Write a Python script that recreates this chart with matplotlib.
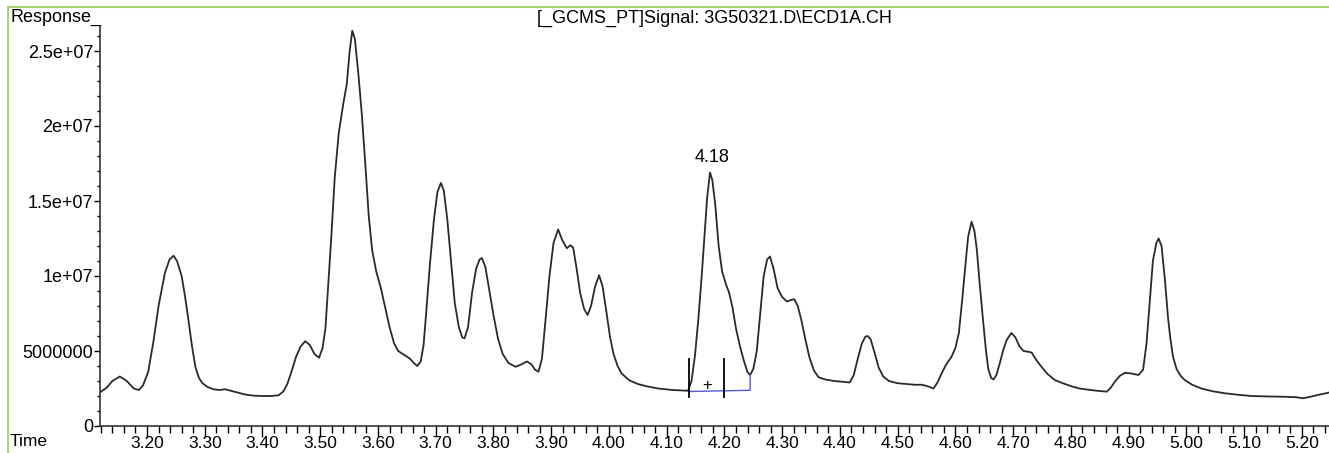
import matplotlib
matplotlib.use("Agg")
import matplotlib.pyplot as plt
from matplotlib.lines import Line2D
from matplotlib.ticker import MultipleLocator
import numpy as np

plt.rcParams['font.family'] = ['Liberation Sans', 'DejaVu Sans']

# chromatogram trace (time in min, response in 1e6)
time = [3.119, 3.13, 3.14, 3.153, 3.165, 3.177, 3.186, 3.193, 3.202, 3.211,
        3.220, 3.231, 3.239, 3.246, 3.252, 3.260, 3.266, 3.272, 3.278, 3.284,
        3.290, 3.296, 3.305, 3.315, 3.325, 3.335, 3.345, 3.355, 3.370, 3.385,
        3.400, 3.415, 3.428, 3.436, 3.443, 3.450, 3.458, 3.466, 3.474, 3.482,
        3.490, 3.498, 3.504, 3.509, 3.514, 3.519, 3.525, 3.532, 3.540, 3.546,
        3.551, 3.5555, 3.560, 3.566, 3.572, 3.578, 3.584, 3.590, 3.597, 3.605,
        3.613, 3.620, 3.628, 3.635, 3.645, 3.655, 3.662, 3.668, 3.674, 3.679,
        3.684, 3.690, 3.697, 3.703, 3.709, 3.714, 3.720, 3.726, 3.733, 3.740,
        3.746, 3.750, 3.756, 3.763, 3.770, 3.776, 3.780, 3.786, 3.793, 3.800,
        3.808, 3.816, 3.826, 3.838, 3.848, 3.858, 3.866, 3.872, 3.878, 3.884,
        3.890, 3.897, 3.904, 3.912, 3.919, 3.927, 3.933, 3.938, 3.944, 3.950,
        3.957, 3.963, 3.969, 3.976, 3.983, 3.989, 3.996, 4.002, 4.008, 4.015,
        4.022, 4.035, 4.050, 4.065, 4.085, 4.110, 4.137, 4.143, 4.149, 4.155,
        4.161, 4.166, 4.170, 4.175, 4.179, 4.184, 4.190, 4.196, 4.203, 4.208,
        4.214, 4.220, 4.227, 4.234, 4.240, 4.2445, 4.250, 4.256, 4.262, 4.268,
        4.274, 4.279, 4.285, 4.292, 4.300, 4.308, 4.315, 4.321, 4.327, 4.333,
        4.340, 4.347, 4.355, 4.363, 4.375, 4.390, 4.405, 4.417, 4.424, 4.431,
        4.438, 4.444, 4.448, 4.453, 4.460, 4.467, 4.475, 4.485, 4.500, 4.515,
        4.530, 4.542, 4.552, 4.562, 4.569, 4.576, 4.584, 4.593, 4.600, 4.606,
        4.612, 4.617, 4.622, 4.628, 4.633, 4.637, 4.642, 4.648, 4.653, 4.657,
        4.662, 4.666, 4.671, 4.677, 4.683, 4.689, 4.697, 4.704, 4.711, 4.718,
        4.726, 4.732, 4.740, 4.749, 4.760, 4.772, 4.786, 4.801, 4.815, 4.830,
        4.845, 4.862, 4.869, 4.876, 4.885, 4.894, 4.905, 4.917, 4.925, 4.931,
        4.936, 4.942, 4.948, 4.952, 4.957, 4.963, 4.968, 4.972, 4.977, 4.983,
        4.990, 4.997, 5.010, 5.026, 5.045, 5.067, 5.090, 5.113, 5.140, 5.171,
        5.190, 5.202, 5.215, 5.228, 5.246]
response = [2.25, 2.55, 3.0, 3.3, 3.0, 2.5, 2.4, 2.7, 3.6, 5.6,
            8.0, 10.2, 11.1, 11.35, 11.0, 10.0, 8.6, 7.0, 5.3, 3.9,
            3.2, 2.85, 2.6, 2.45, 2.4, 2.45, 2.35, 2.25, 2.1, 2.02,
            2.0, 2.0, 2.05, 2.3, 2.8, 3.6, 4.6, 5.3, 5.65, 5.4,
            4.8, 4.55, 5.2, 6.5, 9.5, 12.5, 16.5, 19.5, 21.5, 22.8,
            25.0, 26.35, 25.8, 23.5, 20.8, 17.5, 14.0, 11.7, 10.3, 9.2,
            7.8, 6.6, 5.5, 5.0, 4.75, 4.5, 4.2, 4.0, 4.3, 5.4,
            7.8, 10.8, 13.8, 15.6, 16.2, 15.7, 13.8, 11.2, 8.2, 6.6,
            5.9, 5.85, 6.6, 8.9, 10.5, 11.1, 11.2, 10.6, 9.0, 7.4,
            5.8, 4.8, 4.2, 3.95, 4.1, 4.3, 4.1, 3.75, 3.62, 4.5,
            7.0, 10.0, 12.2, 13.1, 12.4, 11.85, 12.05, 11.9, 10.5, 8.9,
            7.8, 7.4, 8.0, 9.3, 10.05, 9.3, 7.5, 5.9, 4.8, 4.0,
            3.5, 3.05, 2.8, 2.65, 2.5, 2.4, 2.35, 3.0, 4.7, 7.2,
            10.2, 13.0, 15.2, 16.9, 16.4, 14.8, 12.0, 10.3, 9.4, 8.9,
            7.9, 6.5, 5.3, 4.3, 3.6, 3.4, 3.8, 5.0, 7.5, 10.0,
            11.1, 11.3, 10.5, 9.2, 8.6, 8.3, 8.4, 8.45, 8.0, 7.1,
            5.8, 4.6, 3.7, 3.25, 3.1, 3.0, 2.95, 2.9, 3.4, 4.5,
            5.5, 5.95, 6.0, 5.8, 4.9, 3.9, 3.3, 3.0, 2.85, 2.8,
            2.75, 2.75, 2.65, 2.5, 2.9, 3.5, 4.1, 4.6, 5.2, 6.2,
            8.5, 10.6, 12.6, 13.62, 13.0, 11.8, 9.5, 7.0, 5.0, 3.8,
            3.2, 3.1, 3.4, 4.2, 5.1, 5.75, 6.2, 5.9, 5.3, 5.0,
            4.95, 4.9, 4.4, 3.95, 3.45, 3.07, 2.85, 2.65, 2.5, 2.42,
            2.35, 2.29, 2.55, 2.95, 3.35, 3.55, 3.5, 3.4, 3.75, 5.5,
            8.0, 11.0, 12.2, 12.5, 12.0, 9.7, 7.3, 5.9, 4.6, 3.8,
            3.35, 3.07, 2.75, 2.5, 2.32, 2.18, 2.08, 2.0, 1.97, 1.95,
            1.92, 1.85, 1.95, 2.07, 2.22]

# integration baseline of the labelled peak
baseline_t = [4.1385, 4.2445, 4.2445]
baseline_v = [2.30, 2.38, 3.40]
marker_t = [4.1385, 4.199]
peak_label = "4.18"
peak_t = 4.175
peak_v = 16.9

ytick_vals = [0, 5e6, 1e7, 1.5e7, 2e7, 2.5e7]
ytick_labels = ["0", "5000000", "1e+07", "1.5e+07", "2e+07", "2.5e+07"]

W, H = 1329, 453
fig = plt.figure(figsize=(W / 100, H / 100), dpi=100)
ax = fig.add_axes([100 / W, (H - 426) / H, (W - 100) / W, 399 / H])

t = np.array(time)
v = np.array(response) * 1e6
ax.plot(t, v, color='#2a2a2a', lw=1.3, solid_joinstyle='round')

ax.plot(baseline_t, np.array(baseline_v) * 1e6, color='#5a5acd', lw=1.0)
for mt in marker_t:
    ax.plot([mt, mt], [1.93e6, 4.5e6], color='black', lw=1.3)
ax.text(4.17, 2.7e6, "+", ha='center', va='center', fontsize=12)
ax.text(peak_t + 0.003, peak_v * 1e6 + 0.4e6, peak_label, ha='center',
        va='bottom', fontsize=13)

ax.set_xlim(3.1186, 5.247)
ax.set_ylim(0, 26.6e6)

ax.xaxis.set_major_locator(MultipleLocator(0.1))
ax.xaxis.set_minor_locator(MultipleLocator(0.02))
ax.xaxis.set_major_formatter(plt.FuncFormatter(lambda x, p: f"{x:.2f}"))
ax.set_yticks(ytick_vals)
ax.set_yticklabels(ytick_labels)
ax.yaxis.set_minor_locator(MultipleLocator(1e6))

ax.tick_params(axis='x', which='major', length=8, width=1, labelsize=12.5, pad=-1)
ax.tick_params(axis='x', which='minor', length=5, width=1)
ax.tick_params(axis='y', which='major', length=4, width=1, labelsize=13, pad=1)
ax.tick_params(axis='y', which='minor', length=2, width=1)

for s in ['top', 'right']:
    ax.spines[s].set_visible(False)
for s in ['left', 'bottom']:
    ax.spines[s].set_color('#333333')
    ax.spines[s].set_linewidth(1.2)

fig.text(10 / W, 1 - 17 / H, "Response_", ha='left', va='center', fontsize=13)
fig.text(10 / W, 1 - 441 / H, "Time", ha='left', va='center', fontsize=12.5)
fig.text(714 / W, 1 - 18 / H, "[_GCMS_PT]Signal: 3G50321.D\\ECD1A.CH",
         ha='center', va='center', fontsize=13)

# light green frame
fig.add_artist(Line2D([8 / W, 8 / W], [0, 1 - 7 / H], color='#a9d46f', lw=1.5))
fig.add_artist(Line2D([8 / W, 1], [1 - 7 / H, 1 - 7 / H], color='#a9d46f', lw=1.5))

fig.savefig("out.png", dpi=100, facecolor='white')
